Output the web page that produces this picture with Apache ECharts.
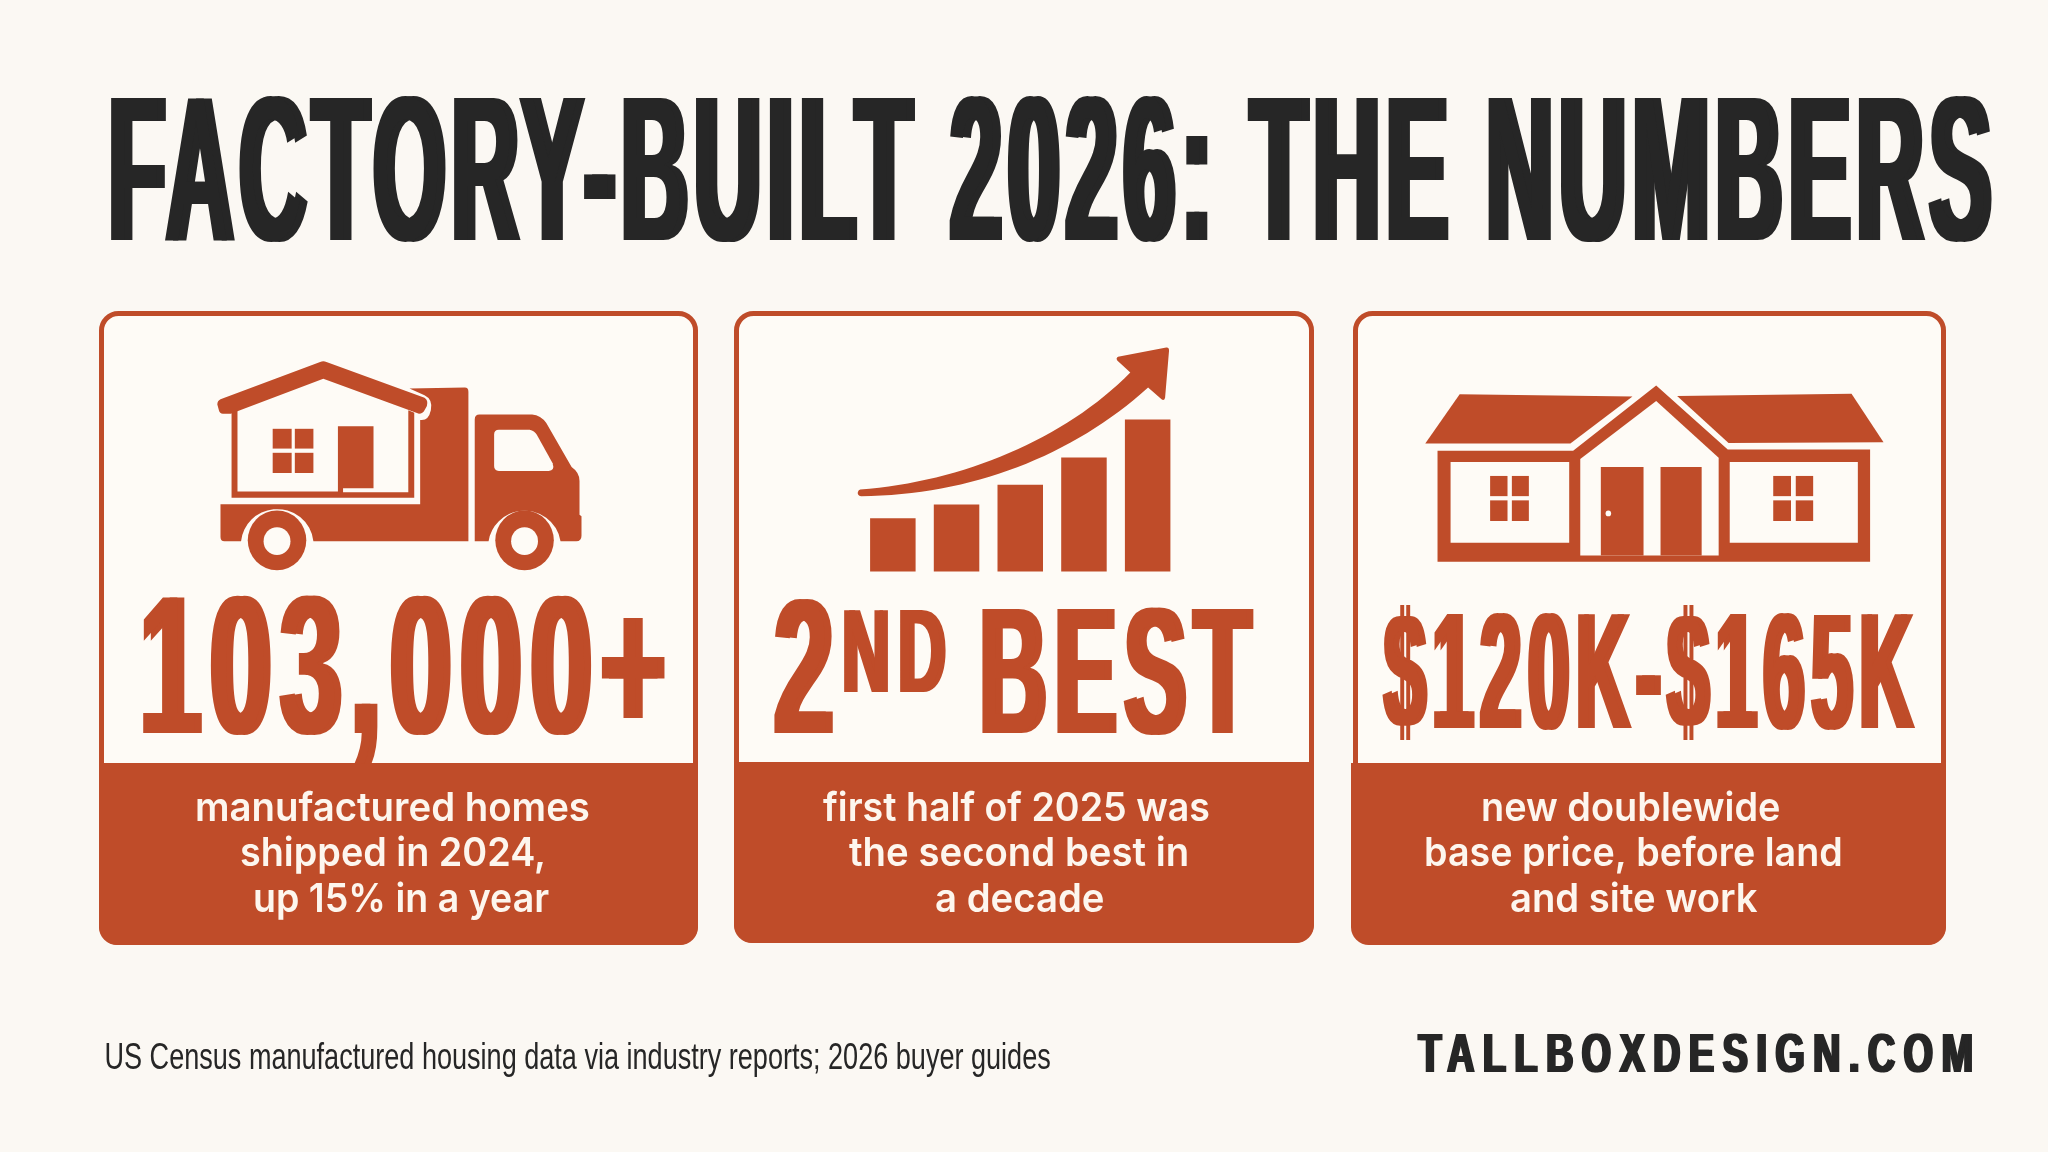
<!DOCTYPE html>
<html>
<head>
<meta charset="utf-8">
<title>Factory-built 2026</title>
<style>
html, body { margin: 0; padding: 0; background: #fbf8f3; }
#main { width: 2048px; height: 1152px; }
</style>
<script src="https://cdn.jsdelivr.net/npm/echarts@6/dist/echarts.min.js"></script>
</head>
<body>
<div id="main"></div>
<script>
// data
var titleText = "FACTORY-BUILT 2026: THE NUMBERS";
var statOne = "103,000+";
var statTwoNum = "2";
var statTwoSup = "ND";
var statTwoWord = "BEST";
var statThree = "$120K-$165K";
var captionOne = ["manufactured homes", "shipped in 2024,", "up 15% in a year"];
var captionTwo = ["first half of 2025 was", "the second best in", "a decade"];
var captionThree = ["new doublewide", "base price, before land", "and site work"];
var sourceText = "US Census manufactured housing data via industry reports; 2026 buyer guides";
var brandText = "TALLBOXDESIGN.COM";
var barCategories = ["a", "b", "c", "d", "e"];
var barValues = [35, 44, 57, 75, 100];

var ORANGE = "#bf4c29";
var CARD = "#fefbf6";
var INK = "#262626";
var SANS = '"Liberation Sans"';
var INTER = "Inter";

var measureCtx = document.createElement("canvas").getContext("2d");

//fit a text between x0..x1 and capTop..base by scaling it, smear thickens stems sideways
function fitText(text, o) {
    var font = (o.weight || "bold") + " " + (o.size || 100) + "px " + o.family;
    measureCtx.font = font;
    measureCtx.textAlign = "left";
    measureCtx.textBaseline = "middle";
    measureCtx.letterSpacing = (o.spacing || 0) + "px";
    var m = measureCtx.measureText(text);
    var left = -m.actualBoundingBoxLeft;
    var right = m.actualBoundingBoxRight;
    measureCtx.letterSpacing = "0px";
    var h = measureCtx.measureText("H");
    var smear = o.smear || 0;
    var sx = (o.x1 - o.x0 - smear) / (right - left);
    var sy = (o.base - o.capTop) / (h.actualBoundingBoxAscent + h.actualBoundingBoxDescent);
    var color = o.color || ORANGE;
    var el = {
        type: "text",
        x: o.x0 - left * sx,
        y: o.base - h.actualBoundingBoxDescent * sy,
        scaleX: sx,
        scaleY: sy,
        silent: true,
        style: {
            x: 0,
            y: 0,
            text: text,
            font: font,
            fill: color,
            align: "left",
            verticalAlign: "middle"
        }
    };
    if (smear) {
        //zrender only passes a text shadow on when its blur is above zero
        el.style.textShadowColor = color;
        el.style.textShadowBlur = 0.1;
        el.style.textShadowOffsetX = smear;
    }
    if (o.zlevel) {
        el.zlevel = o.zlevel;
    }
    return el;
}

function captionLines(lines, boxes) {
    var out = [];
    for (var i = 0; i < lines.length; i++) {
        out.push(fitText(lines[i], {
            family: INTER,
            weight: "600",
            size: 38,
            color: "#fdf6ee",
            x0: boxes[i][0],
            x1: boxes[i][1],
            capTop: boxes[i][2] - 29,
            base: boxes[i][2]
        }));
    }
    return out;
}

function card(x, y, w, h, bandTop, bandX, bandW) {
    return [
        {
            type: "rect",
            silent: true,
            shape: { x: x + 2.5, y: y + 2.5, width: w - 5, height: h - 5, r: 17 },
            style: { fill: CARD, stroke: ORANGE, lineWidth: 5 }
        },
        {
            type: "rect",
            silent: true,
            shape: { x: bandX, y: bandTop, width: bandW, height: y + h - bandTop, r: [0, 0, 18, 18] },
            style: { fill: ORANGE }
        }
    ];
}

// graphic has no plain path type, so every icon path is registered as its own shape
var pathCount = 0;
function iconPath(d, fill) {
    var name = "iconPath" + (pathCount++);
    echarts.graphic.registerShape(name, echarts.graphic.extendPath(d));
    return { type: name, silent: true, style: { fill: fill || ORANGE } };
}

function ellipsePath(cx, cy, rx, ry) {
    return "M" + (cx - rx) + " " + cy + "A" + rx + " " + ry + " 0 1 1 " + (cx + rx) + " " + cy +
        "A" + rx + " " + ry + " 0 1 1 " + (cx - rx) + " " + cy + "Z";
}

function rectPath(x0, y0, x1, y1) {
    return "M" + x0 + " " + y0 + "L" + x1 + " " + y0 + "L" + x1 + " " + y1 + "L" + x0 + " " + y1 + "Z";
}

//icons are drawn in the coordinates of a 620x660 crop that was shown at 1568x1568
function iconGroup(x, y, children) {
    return { type: "group", x: x, y: y, scaleX: 620 / 1568, scaleY: 660 / 1568, silent: true, children: children };
}

var truckIcon = iconGroup(90, 300, [
    //roof
    iconPath("M330 236L582 147Q590 144 598 147L846 232Q856 238 852 252L846 262Q842 270 832 270L590 187L356 270L336 270Q328 270 326 262L322 248Q322 240 330 236Z"),
    //walls and floor
    iconPath("M358 268L373 262L373 455L627 455L627 300L717 300L717 447L640 447L640 457L805 457L805 262L820 268L820 470L358 470Z"),
    iconPath(rectPath(462, 306, 510, 353)),
    iconPath(rectPath(518, 306, 565, 353)),
    iconPath(rectPath(462, 363, 510, 411)),
    iconPath(rectPath(518, 363, 565, 411)),
    //bed and box
    iconPath("M808 210L948 208Q957 208 957 218L957 573L565 573A92 85 0 0 0 382 573L340 573Q330 573 330 563L330 485L835 485L835 285Q856 288 862 262Q868 236 846 226Z"),
    //cab
    iconPath("M973 284Q973 272 985 272L1118 272Q1140 274 1154 292L1218 397Q1238 410 1238 430L1238 510L1243 514L1243 560Q1243 573 1230 573L1190 573A92 85 0 0 0 1008 573L973 573Z"),
    iconPath("M1034 308L1112 308Q1124 310 1130 320L1170 388Q1176 406 1160 406L1034 406Q1022 406 1022 394L1022 320Q1022 308 1034 308Z", CARD),
    //wheels
    iconPath(ellipsePath(473, 571, 74, 71)),
    iconPath(ellipsePath(473, 573, 34, 33), CARD),
    iconPath(ellipsePath(1099, 571, 74, 71)),
    iconPath(ellipsePath(1099, 573, 34, 33), CARD)
]);

var arrowIcon = iconGroup(725, 300, [
    iconPath("M342 450C600 432 860 330 1025 172L992 144Q988 138 994 135L1116 113Q1123 112 1123 120L1113 232Q1111 240 1104 236L1070 208C880 370 620 465 344 466Q334 464 336 456Q338 451 342 450Z")
]);

var houseIcon = iconGroup(1345, 300, [
    iconPath("M290 224L727 229L570 341L203 341Z"),
    iconPath("M840 228L1281 223L1362 338L970 340Z"),
    iconPath("M234 358L577 358L787 203L968 355L1328 355L1328 622L234 622Z"),
    iconPath(rectPath(267, 385, 567, 577), CARD),
    iconPath(rectPath(973, 385, 1297, 577), CARD),
    iconPath("M595 378L787 240L945 375L945 607L595 607Z", CARD),
    iconPath(rectPath(647, 397, 755, 607)),
    iconPath(rectPath(798, 397, 902, 607)),
    iconPath(ellipsePath(666, 507, 7, 7), CARD),
    iconPath(rectPath(367, 418, 411, 466)),
    iconPath(rectPath(422, 418, 465, 466)),
    iconPath(rectPath(367, 476, 411, 525)),
    iconPath(rectPath(422, 476, 465, 525)),
    iconPath(rectPath(1083, 418, 1128, 466)),
    iconPath(rectPath(1140, 418, 1184, 466)),
    iconPath(rectPath(1083, 476, 1128, 525)),
    iconPath(rectPath(1140, 476, 1184, 525))
]);

//初始化图表实例
var chart = echarts.init(document.getElementById("main"), null, { renderer: "canvas", width: 2048, height: 1152 });

//letter spaced text, zrender has no option for it so those lines get layers of their own
var TIGHT = 14;
var WIDE = 12;
chart.getZr().painter.getLayer(4).ctx.letterSpacing = TIGHT + "px";
chart.getZr().painter.getLayer(5).ctx.letterSpacing = WIDE + "px";

var elements = [];
elements = elements.concat(card(99, 311, 599, 634, 763, 99, 599));
elements = elements.concat(card(734, 311, 580, 632, 762, 734, 580));
elements = elements.concat(card(1353, 311, 593, 634, 763, 1351, 595));
elements.push(truckIcon, arrowIcon, houseIcon);

elements.push(fitText(titleText, { family: SANS, size: 198, smear: 8, spacing: TIGHT, zlevel: 4, x0: 111, x1: 1992, capTop: 98, base: 240, color: INK }));

elements.push(fitText(statOne, { family: SANS, size: 179, smear: 7, spacing: TIGHT, zlevel: 4, x0: 143, x1: 665, capTop: 598, base: 733 }));
elements.push(fitText(statTwoNum, { family: SANS, size: 170, smear: 7, spacing: TIGHT, zlevel: 4, x0: 774, x1: 833, capTop: 600, base: 733 }));
elements.push(fitText(statTwoSup, { family: SANS, size: 108, smear: 5, spacing: TIGHT, zlevel: 4, x0: 844, x1: 946, capTop: 609, base: 692 }));
elements.push(fitText(statTwoWord, { family: SANS, size: 160, smear: 7, spacing: TIGHT, zlevel: 4, x0: 982, x1: 1254, capTop: 609, base: 733 }));
elements.push(fitText(statThree, { family: SANS, size: 150, smear: 6, spacing: TIGHT, zlevel: 4, x0: 1382, x1: 1915, capTop: 614, base: 728 }));

elements = elements.concat(captionLines(captionOne, [[197, 589, 821], [241, 543, 866], [255, 549, 912]]));
elements = elements.concat(captionLines(captionTwo, [[823, 1209, 821], [849, 1187, 866], [936, 1103, 912]]));
elements = elements.concat(captionLines(captionThree, [[1483, 1779, 821], [1426, 1841, 866], [1511, 1758, 912]]));

elements.push(fitText(sourceText, { family: SANS, weight: "normal", size: 36, x0: 106, x1: 1050, capTop: 1043, base: 1069, color: INK }));
elements.push(fitText(brandText, { family: SANS, size: 52, smear: 3, spacing: WIDE, zlevel: 5, x0: 1417, x1: 1972, capTop: 1034, base: 1072, color: INK }));

//图表配置项
var option = {
    backgroundColor: "#fbf8f3",
    animation: false,
    grid: { left: 861, top: 419.5, width: 318.5, height: 152 },
    xAxis: { type: "category", data: barCategories, show: false },
    yAxis: { type: "value", min: 0, max: 100, show: false },
    graphic: { elements: elements },
    series: [
        {
            type: "bar",
            data: barValues,
            barWidth: 45.5,
            silent: true,
            itemStyle: { color: ORANGE }
        }
    ]
};

//使用以上配置项配置图表
chart.setOption(option);
</script>
</body>
</html>
